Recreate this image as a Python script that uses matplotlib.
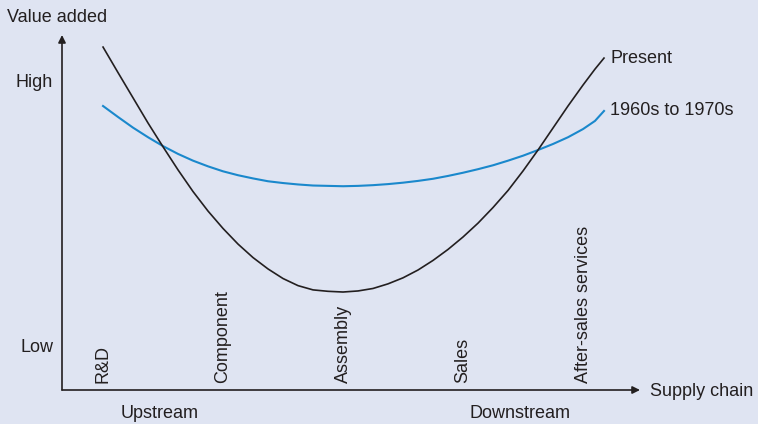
import matplotlib
matplotlib.use('Agg')
import matplotlib.pyplot as plt

plt.rcParams['font.family'] = ['Liberation Sans', 'DejaVu Sans']

# position along the chain (R&D = 1 ... After-sales services = 5)
chain_pos = [1.0, 1.125, 1.25, 1.375, 1.5, 1.625, 1.75, 1.875, 2.0, 2.125,
             2.25, 2.375, 2.5, 2.625, 2.75, 2.875, 3.0, 3.125, 3.25, 3.375,
             3.5, 3.625, 3.75, 3.875, 4.0, 4.125, 4.25, 4.375, 4.5, 4.625,
             4.75, 4.875, 5.0, 5.1, 5.175]
# value added, 0 (low) to 10 (high)
present = [9.66, 8.94, 8.23, 7.52, 6.85, 6.20, 5.59, 5.04, 4.55, 4.11,
           3.73, 3.41, 3.14, 2.94, 2.82, 2.78, 2.76, 2.79, 2.86, 2.99,
           3.16, 3.38, 3.65, 3.96, 4.31, 4.70, 5.14, 5.62, 6.17, 6.76,
           7.38, 8.00, 8.59, 9.04, 9.35]
sixties = [8.00, 7.69, 7.39, 7.12, 6.87, 6.65, 6.46, 6.30, 6.16, 6.05,
           5.96, 5.88, 5.83, 5.79, 5.76, 5.75, 5.74, 5.75, 5.77, 5.80,
           5.84, 5.89, 5.95, 6.03, 6.12, 6.22, 6.33, 6.46, 6.60, 6.76,
           6.93, 7.12, 7.35, 7.58, 7.86]
stages = ['R&D', 'Component', 'Assembly', 'Sales', 'After-sales services']
stage_pos = [1, 2, 3, 4, 5]

bg = '#dfe4f2'
ink = '#231f20'
blue = '#1a88cc'
fs = 13

W, H = 758, 424
fig = plt.figure(figsize=(W / 100, H / 100), dpi=100, facecolor=bg)
ax = fig.add_axes([62 / W, (H - 390) / H, (640 - 62) / W, (390 - 35) / H])
ax.set_facecolor(bg)
ax.set_xlim(0.658, 5.475)
ax.set_ylim(0, 10)
ax.axis('off')

# axes with arrow heads
arrow = dict(arrowstyle='-|>', color=ink, lw=1.2, mutation_scale=11,
             shrinkA=0, shrinkB=0)
ax.annotate('', xy=(1, 0), xytext=(0, 0), xycoords='axes fraction',
            arrowprops=arrow, annotation_clip=False)
ax.annotate('', xy=(0, 1), xytext=(0, 0), xycoords='axes fraction',
            arrowprops=arrow, annotation_clip=False)

ax.plot(chain_pos, sixties, color=blue, lw=1.5, solid_joinstyle='round')
ax.plot(chain_pos, present, color=ink, lw=1.2, solid_joinstyle='round')

ax.text(5.225, present[-1], 'Present', color=ink, fontsize=fs,
        ha='left', va='center')
ax.text(5.225, sixties[-1], '1960s to 1970s', color=ink, fontsize=fs,
        ha='left', va='center')

for pos, name in zip(stage_pos, stages):
    ax.text(pos, 0.2, name, rotation=90, color=ink, fontsize=fs,
            ha='center', va='bottom')

ax.text(0.583, 8.65, 'High', color=ink, fontsize=fs, ha='right', va='center',
        clip_on=False)
ax.text(0.583, 1.21, 'Low', color=ink, fontsize=fs, ha='right', va='center',
        clip_on=False)

fig.text(7 / W, 1 - 18 / H, 'Value added', color=ink, fontsize=fs,
         ha='left', va='center')
fig.text(650 / W, 1 - 392 / H, 'Supply chain', color=ink, fontsize=fs,
         ha='left', va='center')
fig.text(160 / W, 1 - 414 / H, 'Upstream', color=ink, fontsize=fs,
         ha='center', va='center')
fig.text(520 / W, 1 - 414 / H, 'Downstream', color=ink, fontsize=fs,
         ha='center', va='center')

fig.savefig('out.png', dpi=100, facecolor=bg)
